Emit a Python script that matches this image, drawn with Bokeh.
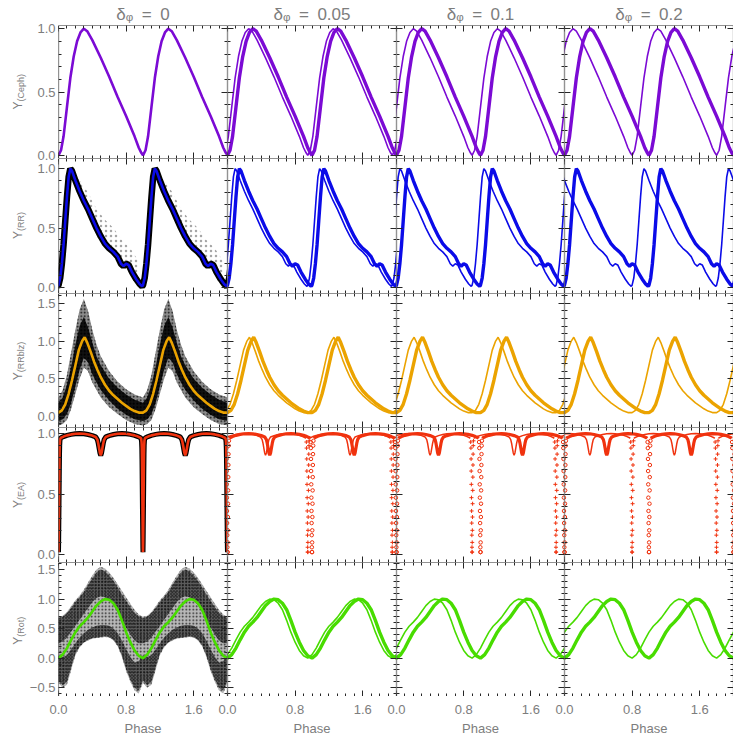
import math
from bokeh.plotting import figure
from bokeh.layouts import gridplot, row, column
from bokeh.models import LinearAxis, FixedTicker, Range1d, Label
from bokeh.embed import file_html
from bokeh.resources import INLINE

# ---------------------------------------------------------------- data
delta_phi = [0.0, 0.05, 0.1, 0.2]
column_titles = ["δᵩ\u2002=\u20020", "δᵩ\u2002=\u20020.05", "δᵩ\u2002=\u20020.1", "δᵩ\u2002=\u20020.2"]
row_subscripts = ["(Ceph)", "(RR)", "(RRblz)", "(EA)", "(Rot)"]
row_colors = ["#7b0ad4", "#0b0be8", "#eba300", "#f0320e", "#48dc00"]

x_ticks = [0.0, 0.8, 1.6]
x_tick_labels = ["0.0", "0.8", "1.6"]
y_ticks = [[0.0, 0.5, 1.0], [0.0, 0.5, 1.0], [0.0, 0.5, 1.0, 1.5],
           [0.0, 0.5, 1.0], [-0.5, 0.0, 0.5, 1.0, 1.5]]
y_tick_labels = [["0.0", "0.5", "1.0"], ["0.0", "0.5", "1.0"], ["0.0", "0.5", "1.0", "1.5"],
                 ["0.0", "0.5", "1.0"], ["−0.5", "0.0", "0.5", "1.0", "1.5"]]

# one-cycle light-curve templates (phase, normalised flux)
ceph_phase = [0.00, 0.03, 0.06, 0.10, 0.14, 0.18, 0.22, 0.26, 0.30, 0.34, 0.40, 0.50,
              0.60, 0.70, 0.80, 0.90, 0.95, 0.98, 1.00]
ceph_flux = [0.00, 0.04, 0.15, 0.38, 0.61, 0.78, 0.90, 0.97, 1.00, 0.98, 0.91, 0.77,
             0.62, 0.46, 0.31, 0.15, 0.06, 0.02, 0.00]

rr_phase = [0.00, 0.02, 0.04, 0.06, 0.08, 0.10, 0.12, 0.14, 0.16, 0.20, 0.25, 0.30, 0.35,
            0.40, 0.45, 0.50, 0.55, 0.60, 0.65, 0.70, 0.74, 0.77, 0.80, 0.83, 0.87, 0.92,
            0.96, 0.99, 1.00]
rr_flux = [0.02, 0.08, 0.20, 0.36, 0.56, 0.76, 0.93, 1.00, 0.98, 0.90, 0.81, 0.73, 0.66,
           0.58, 0.50, 0.43, 0.37, 0.33, 0.30, 0.26, 0.20, 0.18, 0.20, 0.19, 0.13, 0.07,
           0.03, 0.01, 0.02]

rrb_phase = [0.00, 0.04, 0.08, 0.12, 0.16, 0.20, 0.24, 0.28, 0.31, 0.34, 0.38, 0.42, 0.46,
             0.50, 0.55, 0.60, 0.65, 0.70, 0.75, 0.80, 0.85, 0.90, 0.95, 1.00]
rrb_flux = [0.05, 0.08, 0.16, 0.30, 0.48, 0.68, 0.88, 1.00, 1.05, 0.98, 0.86, 0.73, 0.62,
            0.52, 0.42, 0.34, 0.28, 0.23, 0.18, 0.14, 0.10, 0.07, 0.05, 0.05]

ea_phase = [0.0000, 0.0015, 0.0030, 0.0045, 0.0060, 0.0075, 0.0090, 0.0105, 0.0120, 0.0140,
            0.0170, 0.0220, 0.03, 0.06, 0.10, 0.15, 0.20, 0.25, 0.30, 0.35, 0.40, 0.44,
            0.46, 0.47, 0.48, 0.49, 0.50, 0.51, 0.52, 0.53, 0.54, 0.56, 0.60, 0.65, 0.70,
            0.75, 0.80, 0.85, 0.90, 0.94, 0.97, 0.9780, 0.9830, 0.9860, 0.9880, 0.9895,
            0.9910, 0.9925, 0.9940, 0.9955, 0.9970, 0.9985, 1.0000]
ea_flux = [0.02, 0.10, 0.20, 0.31, 0.42, 0.53, 0.64, 0.74, 0.83, 0.90,
           0.94, 0.96, 0.965, 0.975, 0.985, 0.993, 0.998, 1.00, 0.998, 0.992, 0.983, 0.972,
           0.95, 0.92, 0.88, 0.84, 0.82, 0.84, 0.88, 0.92, 0.95, 0.972, 0.983, 0.992, 0.998,
           1.00, 0.998, 0.993, 0.985, 0.975, 0.965, 0.96, 0.93, 0.88, 0.79,
           0.69, 0.58, 0.47, 0.36, 0.26, 0.16, 0.06, 0.02]

rot_phase = [0.00, 0.05, 0.10, 0.15, 0.20, 0.25, 0.30, 0.35, 0.40, 0.45, 0.50, 0.55, 0.60,
             0.65, 0.70, 0.75, 0.80, 0.85, 0.90, 0.95, 1.00]
rot_flux = [0.00, 0.06, 0.17, 0.31, 0.44, 0.54, 0.61, 0.69, 0.79, 0.89, 0.96, 1.00, 0.99,
            0.93, 0.82, 0.64, 0.44, 0.27, 0.13, 0.04, 0.00]

rr_out_phase = [0.18, 0.25, 0.35, 0.45, 0.55, 0.65, 0.75, 0.85, 0.95]
rr_out_upper = [0.96, 0.90, 0.80, 0.66, 0.57, 0.50, 0.40, 0.33, 0.22]
rr_out_lower = [0.94, 0.81, 0.66, 0.50, 0.37, 0.30, 0.20, 0.16, 0.05]

rrb_cloud_phase = [0.00, 0.05, 0.10, 0.15, 0.20, 0.25, 0.30, 0.35, 0.40, 0.45, 0.50, 0.60,
                   0.70, 0.80, 0.90, 1.00]
rrb_cloud_upper = [0.25, 0.35, 0.55, 0.85, 1.15, 1.42, 1.56, 1.40, 1.15, 0.95, 0.80, 0.60,
                   0.46, 0.36, 0.29, 0.25]
rrb_cloud_lower = [-0.12, -0.10, -0.05, 0.10, 0.30, 0.50, 0.65, 0.60, 0.45, 0.35, 0.25, 0.12,
                   0.03, -0.05, -0.10, -0.12]
rrb_core_upper = [0.18, 0.25, 0.42, 0.66, 0.95, 1.20, 1.32, 1.18, 0.98, 0.80, 0.68, 0.50,
                  0.38, 0.29, 0.22, 0.18]
rrb_core_lower = [-0.06, -0.04, 0.03, 0.18, 0.40, 0.62, 0.78, 0.72, 0.56, 0.45, 0.35, 0.21,
                  0.10, 0.02, -0.04, -0.06]

rot_cloud_phase = [0.00, 0.05, 0.10, 0.15, 0.20, 0.25, 0.30, 0.35, 0.40, 0.45, 0.50, 0.55,
                   0.60, 0.65, 0.70, 0.75, 0.80, 0.85, 0.90, 0.95, 1.00]
rot_cloud_upper = [0.70, 0.72, 0.78, 0.88, 0.98, 1.06, 1.16, 1.28, 1.40, 1.50, 1.55, 1.52,
                   1.45, 1.36, 1.25, 1.14, 1.03, 0.92, 0.82, 0.74, 0.70]
rot_cloud_lower = [-0.42, -0.50, -0.45, -0.20, 0.05, 0.18, 0.26, 0.30, 0.33, 0.34, 0.35, 0.36,
                   0.35, 0.30, 0.20, 0.02, -0.22, -0.40, -0.55, -0.60, -0.42]
rot_hi_branch_upper = [0.68, 0.70, 0.76, 0.85, 0.95, 1.03, 1.12, 1.24, 1.35, 1.45, 1.50, 1.47,
                       1.40, 1.31, 1.20, 1.08, 0.97, 0.86, 0.77, 0.71, 0.68]
rot_hi_branch_lower = [0.25, 0.28, 0.35, 0.45, 0.55, 0.65, 0.75, 0.85, 0.95, 1.02, 1.05, 1.03,
                       0.98, 0.90, 0.78, 0.65, 0.52, 0.40, 0.30, 0.25, 0.25]
rot_lo_branch_upper = [0.05, 0.02, 0.05, 0.15, 0.25, 0.35, 0.42, 0.48, 0.52, 0.55, 0.56, 0.56,
                       0.55, 0.50, 0.42, 0.30, 0.15, 0.02, -0.08, -0.05, 0.05]
rot_lo_branch_lower = [-0.38, -0.46, -0.40, -0.15, 0.08, 0.20, 0.27, 0.31, 0.34, 0.35, 0.36,
                       0.37, 0.36, 0.31, 0.22, 0.05, -0.18, -0.36, -0.50, -0.55, -0.38]

templates = [(ceph_phase, ceph_flux), (rr_phase, rr_flux), (rrb_phase, rrb_flux),
             (ea_phase, ea_flux), (rot_phase, rot_flux)]

# ---------------------------------------------------------------- layout / style
FONT = "Liberation Sans"
GRAY = "#7d7d7d"
AX = "#262626"
col_left = [58, 227, 396, 564]
col_right = [227, 396, 564, 733]
row_top = [25, 158, 293, 427, 562]
row_bot = [158, 293, 427, 562, 696]
TOP_PAD = 25
BOTTOM_H = 46
y_ranges = [(-0.025, 1.025), (-0.05, 1.085), (-0.148, 1.632), (-0.066, 1.05), (-0.65, 1.62)]


def tile(ph, val, shift):
    xs, ys = [], []
    for k in (-1, 0, 1, 2):
        xs += [p + k - shift for p in ph]
        ys += list(val)
    return xs, ys


def minor_list(lo, hi):
    out = []
    i = math.floor(lo * 10)
    while i / 10 <= hi:
        out.append(round(i / 10, 1))
        i += 1
    return out


def tick_axis(ticks, minor, fixed):
    ax = LinearAxis(ticker=FixedTicker(ticks=ticks, minor_ticks=minor), fixed_location=fixed)
    ax.axis_line_color = AX
    ax.axis_line_width = 1.2
    ax.major_tick_in = 6
    ax.major_tick_out = 0
    ax.minor_tick_in = 3
    ax.minor_tick_out = 0
    ax.major_tick_line_color = AX
    ax.minor_tick_line_color = AX
    ax.major_label_overrides = {t: "" for t in ticks}
    return ax


def band(p, ph, up, lo, alpha, hatch_alpha, scale=4.0):
    x, y1 = tile(ph, up, 0.0)
    _, y2 = tile(ph, lo, 0.0)
    p.varea(x=x, y1=y1, y2=y2, fill_color="black", fill_alpha=alpha,
            hatch_pattern="dot", hatch_color="black", hatch_alpha=hatch_alpha,
            hatch_scale=scale, hatch_weight=1.2)


def panel(r, c):
    fw = col_right[c] - col_left[c]
    fh = row_bot[r] - row_top[r]
    p = figure(frame_width=fw, frame_height=fh,
               x_range=Range1d(0, 2), y_range=Range1d(*y_ranges[r]),
               x_axis_type=None, y_axis_type=None,
               title=(column_titles[c] if r == 0 else None),
               output_backend="svg", toolbar_location=None,
               min_border_left=0, min_border_right=0,
               min_border_top=TOP_PAD if r == 0 else 0, min_border_bottom=0,
               outline_line_color=None, background_fill_color="white",
               border_fill_color="white")
    if r == 0:
        p.title.align = "center"
        p.title.text_font = FONT
        p.title.text_font_size = "17px"
        p.title.text_font_style = "normal"
        p.title.text_color = GRAY
        p.title.standoff = 3
    y0, y1 = y_ranges[r]
    ymin = minor_list(y0, y1)
    xmin = minor_list(0, 2)
    p.add_layout(tick_axis(y_ticks[r], ymin, 0), "left")
    p.add_layout(tick_axis(y_ticks[r], ymin, 2), "right")
    p.add_layout(tick_axis(x_ticks, xmin, y0), "below")
    p.add_layout(tick_axis(x_ticks, xmin, y1), "above")

    color = row_colors[r]
    ph, val = templates[r]

    if c == 0:
        # observed photometry behind the model curve
        if r == 1:
            for k in (0, 1):
                p.varea(x=[q + k for q in rr_out_phase], y1=rr_out_upper, y2=rr_out_lower,
                        fill_alpha=0, hatch_pattern="dot", hatch_color="black",
                        hatch_alpha=0.35, hatch_scale=5, hatch_weight=0.6)
            x, y = tile(ph, val, 0.0)
            p.line(x, y, line_color="black", line_width=6.5)
        elif r == 2:
            band(p, rrb_cloud_phase, rrb_cloud_upper, rrb_cloud_lower, 0.45, 0.9, 3.5)
            band(p, rrb_cloud_phase, rrb_core_upper, rrb_core_lower, 0.88, 1.0, 3.5)
        elif r == 3:
            x, y = tile(ph, val, 0.0)
            p.line(x, y, line_color="black", line_width=5)
        elif r == 4:
            band(p, rot_cloud_phase, rot_cloud_upper, rot_cloud_lower, 0.28, 0.8, 3.5)
            band(p, rot_cloud_phase, rot_hi_branch_upper, rot_hi_branch_lower, 0.5, 0.9, 3.0)
            band(p, rot_cloud_phase, rot_lo_branch_upper, rot_lo_branch_lower, 0.5, 0.9, 3.0)
        x, y = tile(ph, val, 0.0)
        p.line(x, y, line_color=color, line_width=2.6)
    else:
        d = delta_phi[c]
        if r == 3:
            deep = [(f < 0.95 and (q < 0.1 or q > 0.9)) for q, f in zip(ph, val)]
            for shift, lw, mk in ((d, 1.5, "cross"), (0.0, 3.2, "circle")):
                x, y = tile(ph, val, shift)
                flags = deep * 4
                yl = [float("nan") if fl else v for v, fl in zip(y, flags)]
                p.line(x, yl, line_color=color, line_width=lw)
                xm = [a for a, fl in zip(x, flags) if fl]
                ym = [b for b, fl in zip(y, flags) if fl]
                if mk == "circle":
                    p.scatter(xm, ym, marker="circle", size=3.5, fill_color=None,
                              line_color=color, line_width=1)
                else:
                    p.scatter(xm, ym, marker="cross", size=4, line_color=color,
                              line_width=1)
        else:
            x, y = tile(ph, val, d)
            p.line(x, y, line_color=color, line_width=1.6)
            x, y = tile(ph, val, 0.0)
            p.line(x, y, line_color=color, line_width=3.4)
    return p


# ---------------------------------------------------------------- left label strip
strip_h = row_bot[-1]
left = figure(width=col_left[0], height=strip_h, x_range=Range1d(0, col_left[0]),
              y_range=Range1d(strip_h, 0), x_axis_type=None, y_axis_type=None, title=None,
              output_backend="svg", toolbar_location=None, min_border=0,
              min_border_left=0, min_border_right=0, min_border_top=0, min_border_bottom=0,
              outline_line_color=None)
for r in range(5):
    y0, y1 = y_ranges[r]
    upp = (y1 - y0) / (row_bot[r] - row_top[r])
    left.extra_y_ranges[f"r{r}"] = Range1d(start=y1 - (strip_h - row_top[r]) * upp,
                                           end=y1 + row_top[r] * upp)
    ax = LinearAxis(y_range_name=f"r{r}", ticker=FixedTicker(ticks=y_ticks[r], minor_ticks=[]),
                    fixed_location=col_left[0])
    ax.axis_line_color = None
    ax.major_tick_in = 0
    ax.major_tick_out = 0
    ax.minor_tick_in = 0
    ax.minor_tick_out = 0
    ax.major_label_standoff = 3
    ax.major_label_overrides = dict(zip(y_ticks[r], y_tick_labels[r]))
    ax.major_label_text_font = FONT
    ax.major_label_text_font_size = "13px"
    ax.major_label_text_color = GRAY
    left.add_layout(ax, "left")
    # axis title  Y_(type)
    sub = row_subscripts[r]
    sw = 4.5 * len(sub)
    yw = 8.0
    junction = (row_top[r] + row_bot[r]) / 2 + (sw - yw) / 2
    left.add_layout(Label(x=17, y=junction, angle=math.pi / 2, text="Y", text_align="right",
                          text_baseline="middle", text_font=FONT, text_font_size="12px",
                          text_color=GRAY))
    left.add_layout(Label(x=20.5, y=junction, angle=math.pi / 2, text=sub, text_align="left",
                          text_baseline="middle", text_font=FONT, text_font_size="9px",
                          text_color=GRAY))

# ---------------------------------------------------------------- bottom label strip
strip_w = col_right[-1]
bottom = figure(width=strip_w, height=BOTTOM_H, x_range=Range1d(0, strip_w),
                y_range=Range1d(BOTTOM_H, 0), x_axis_type=None, y_axis_type=None, title=None,
                output_backend="svg", toolbar_location=None,
                min_border_left=0, min_border_right=0, min_border_top=0, min_border_bottom=0,
                outline_line_color=None)
for c in range(4):
    upp = 2.0 / (col_right[c] - col_left[c])
    bottom.extra_x_ranges[f"c{c}"] = Range1d(start=-col_left[c] * upp,
                                             end=2.0 + (strip_w - col_right[c]) * upp)
    ax = LinearAxis(x_range_name=f"c{c}", ticker=FixedTicker(ticks=x_ticks, minor_ticks=[]),
                    fixed_location=0, bounds=(0, 2))
    ax.axis_line_color = None
    ax.major_tick_in = 0
    ax.major_tick_out = 0
    ax.minor_tick_in = 0
    ax.minor_tick_out = 0
    ax.major_label_standoff = 8
    ax.major_label_overrides = dict(zip(x_ticks, x_tick_labels))
    ax.major_label_text_font = FONT
    ax.major_label_text_font_size = "13px"
    ax.major_label_text_color = GRAY
    ax.axis_label = "Phase"
    ax.axis_label_text_font = FONT
    ax.axis_label_text_font_size = "13px"
    ax.axis_label_text_font_style = "normal"
    ax.axis_label_text_color = GRAY
    ax.axis_label_standoff = 4
    bottom.add_layout(ax, "below")

grid = gridplot([[panel(r, c) for c in range(4)] for r in range(5)], toolbar_location=None)
layout = column(row(left, grid), bottom)

open("out.html", "w").write(file_html(layout, INLINE))
